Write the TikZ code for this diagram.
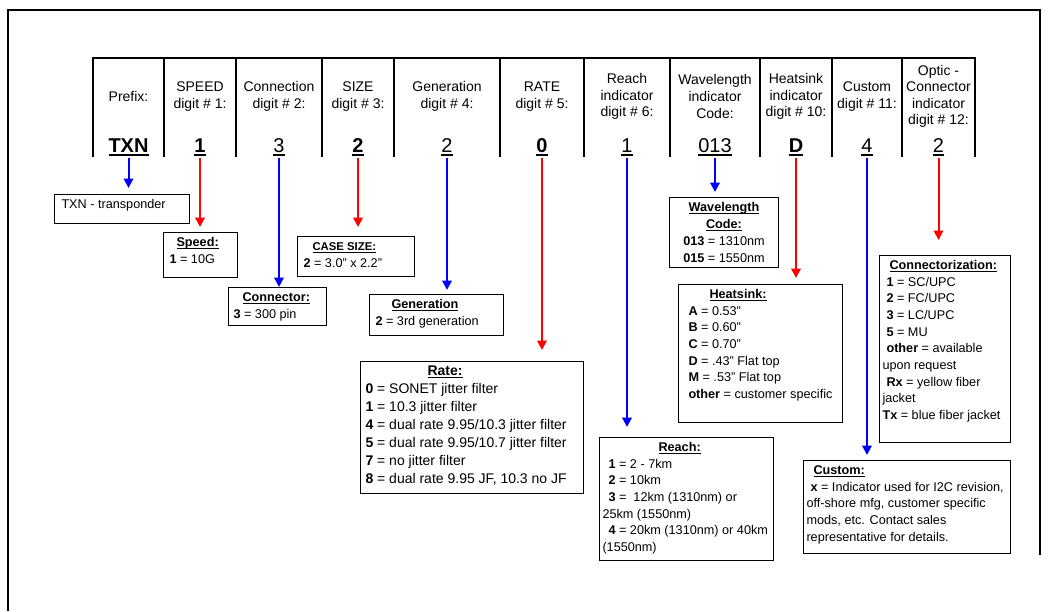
\documentclass[tikz,border=0pt]{standalone}
\usepackage{fontspec}
\setmainfont{Liberation Sans}
\usetikzlibrary{arrows.meta}

\newcommand{\digul}[1]{\leavevmode\setbox0\hbox{#1}\rlap{\rule[-3pt]{\wd0}{1.2pt}}\box0}
\newcommand{\undl}[1]{\leavevmode\setbox0\hbox{#1}\rlap{\rule[-1.7pt]{\wd0}{0.7pt}}\box0}
\newcommand{\keytext}[3]{\parbox[t][#2][t]{#1}{\raggedright\rule{0pt}{10.5pt}#3}}

\tikzset{every picture/.style={line width=0.75pt}}
\tikzset{
  colhead/.style={align=center, inner sep=0.75pt, font=\fontsize{10.5}{12.4}\selectfont},
  digit/.style={anchor=base, inner sep=0.75pt, font=\fontsize{15}{18}\selectfont},
  keybox/.style={draw, anchor=north west, inner xsep=2.25pt, inner ysep=0pt, font=\fontsize{9.5}{12.5}\selectfont},
  bluearr/.style={color={rgb, 255:red, 0; green, 0; blue, 255 }, line width=1.5pt, -{Triangle[length=7pt,width=7pt]}},
  redarr/.style={color={rgb, 255:red, 255; green, 0; blue, 0 }, line width=1.5pt, -{Triangle[length=7pt,width=7pt]}}
}

\begin{document}
\begin{tikzpicture}[x=0.75pt,y=0.75pt,yscale=-1,xscale=1]
\useasboundingbox (0,0) rectangle (1053,611);

% frame
\draw [line width=1.5pt] (8,611) -- (8,10) -- (1040,10) -- (1040,555);

% header row
\draw [line width=1.5pt] (92.25,58) -- (975.75,58);
\foreach \x in {93,164,236,322,394,500,584,670,760,832,902,975}
  \draw [line width=1.5pt] (\x,58) -- (\x,157);

\foreach \i/\x/\head/\dig/\arr/\ty in {
  1/128.5/{Prefix:}/{\textbf{TXN}}/bluearr/188,
  2/200/{SPEED\\digit \# 1:}/{\textbf{1}}/redarr/227,
  3/279/{Connection\\digit \# 2:}/{3}/bluearr/287,
  4/358/{SIZE\\digit \# 3:}/{\textbf{2}}/redarr/227,
  5/447/{Generation\\digit \# 4:}/{2}/bluearr/290,
  6/542/{RATE\\digit \# 5:}/{\textbf{0}}/redarr/350,
  7/627/{Reach\\indicator\\digit \# 6:}/{1}/bluearr/427,
  8/715/{Wavelength\\indicator\\Code:}/{013}/bluearr/192,
  9/796/{Heatsink\\indicator\\digit \# 10:}/{\textbf{D}}/redarr/278,
  10/867/{Custom\\digit \# 11:}/{4}/bluearr/455,
  11/938.5/{Optic -\\Connector\\indicator\\digit \# 12:}/{2}/redarr/240}{
  \node [colhead] (h\i) at (\x,96.5) {\head};
  \node [digit] (d\i) at (\x,152) {\digul{\dig}};
  \coordinate (e\i) at (\x,\ty);
  \draw [\arr] (d\i.south) -- (e\i);
}

% key boxes
\node [keybox] (txnbox) at (54,194) {\keytext{96.75pt}{21.75pt}{\hspace*{3pt}TXN - transponder}};
\node [keybox] (speedbox) at (163,232) {\keytext{51pt}{33.75pt}{\hspace*{7.5pt}\undl{\textbf{Speed:}}\\
  \hspace*{2.25pt}\textbf{1} = 10G}};
\node [keybox] (sizebox) at (297,236) {\keytext{83.25pt}{30pt}{\hspace*{9pt}{\fontsize{8.5}{10}\selectfont\undl{\textbf{CASE SIZE:}}}\\
  \hspace*{2.25pt}\textbf{2} = 3.0" x 2.2"}};
\node [keybox] (connbox) at (228,287) {\keytext{69pt}{28.5pt}{\hspace*{8.25pt}\undl{\textbf{Connector:}}\\
  \hspace*{1.5pt}\textbf{3} = 300 pin}};
\node [keybox] (genbox) at (369,294) {\keytext{96pt}{30.75pt}{\hspace*{14.25pt}\undl{\textbf{Generation}}\\
  \hspace*{2.25pt}\textbf{2} = 3rd generation}};
\node [keybox] (ratebox) at (360,361) {\keytext{162.75pt}{99pt}{\fontsize{10.5}{13.5}\selectfont
  \hspace*{48pt}\undl{\textbf{Rate:}}\\
  \hspace*{1.5pt}\textbf{0} = SONET jitter filter\\
  \hspace*{1.5pt}\textbf{1} = 10.3 jitter filter\\
  \hspace*{1.5pt}\textbf{4} = dual rate 9.95/10.3 jitter filter\\
  \hspace*{1.5pt}\textbf{5} = dual rate 9.95/10.7 jitter filter\\
  \hspace*{1.5pt}\textbf{7} = no jitter filter\\
  \hspace*{1.5pt}\textbf{8} = dual rate 9.95 JF, 10.3 no JF}};
\node [keybox] (wavebox) at (669,197) {\keytext{77.25pt}{52.5pt}{\centering\baselineskip=12.75pt
  \undl{\textbf{Wavelength}}\\
  \undl{\textbf{Code:}}\\
  \textbf{013} = 1310nm\\
  \textbf{015} = 1550nm}};
\node [keybox] (heatbox) at (678,284) {\keytext{118.5pt}{103.5pt}{\hspace*{21pt}\undl{\textbf{Heatsink:}}\\
  \hspace*{5.25pt}\textbf{A} = 0.53"\\
  \hspace*{5.25pt}\textbf{B} = 0.60"\\
  \hspace*{5.25pt}\textbf{C} = 0.70"\\
  \hspace*{5.25pt}\textbf{D} = .43" Flat top\\
  \hspace*{5.25pt}\textbf{M} = .53" Flat top\\
  \hspace*{5.25pt}\textbf{other} = customer specific}};
\node [keybox] (reachbox) at (599,437) {\keytext{126pt}{92.25pt}{\hspace*{42pt}\undl{\textbf{Reach:}}\\
  \hspace*{4.5pt}\textbf{1} = 2 - 7km\\
  \hspace*{4.5pt}\textbf{2} = 10km\\
  \hspace*{4.5pt}\textbf{3} = \ 12km (1310nm) or\\
  25km (1550nm)\\
  \hspace*{4.5pt}\textbf{4} = 20km (1310nm) or 40km\\
  (1550nm)}};
\node [keybox] (optbox) at (879,255) {\keytext{93.75pt}{140.25pt}{\hspace*{5.25pt}\undl{\textbf{Connectorization:}}\\
  \hspace*{3pt}\textbf{1} = SC/UPC\\
  \hspace*{3pt}\textbf{2} = FC/UPC\\
  \hspace*{3pt}\textbf{3} = LC/UPC\\
  \hspace*{3pt}\textbf{5} = MU\\
  \hspace*{3pt}\textbf{other} = available\\
  upon request\\
  \hspace*{3pt}\textbf{Rx} = yellow fiber\\
  jacket\\
  \textbf{Tx} = blue fiber jacket}};
\node [keybox] (custbox) at (803,460) {\keytext{150.75pt}{69.75pt}{\hspace*{5.25pt}\undl{\textbf{Custom:}}\\
  \hspace*{3pt}\textbf{x} = Indicator used for I2C revision,\\
  off-shore mfg, customer specific\\
  mods, etc. Contact sales\\
  representative for details.}};

\end{tikzpicture}
\end{document}
